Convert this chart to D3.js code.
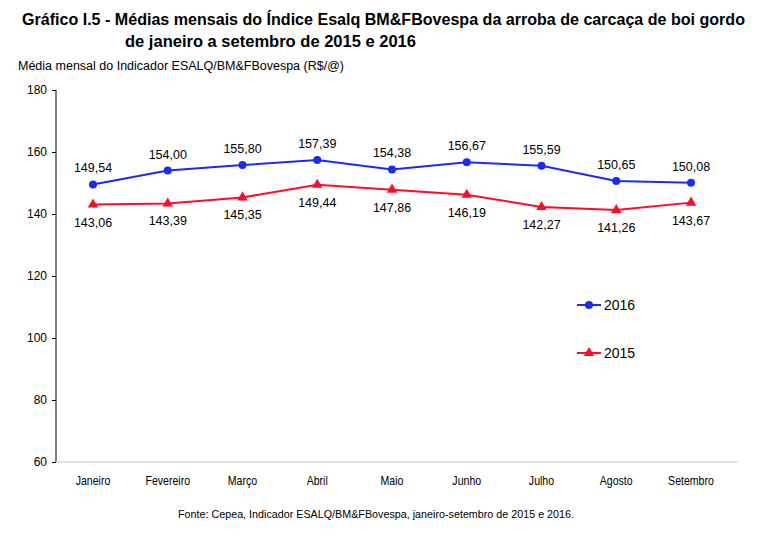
<!DOCTYPE html>
<html><head><meta charset="utf-8">
<script src="https://cdn.jsdelivr.net/npm/d3@7"></script>
<style>
body{margin:0;background:#fff;}
svg{display:block;}
</style></head>
<body>
<svg id="c" width="779" height="541"></svg>
<script>
const months = ["Janeiro","Fevereiro","Março","Abril","Maio","Junho","Julho","Agosto","Setembro"];
const values2016 = [149.54,154.00,155.80,157.39,154.38,156.67,155.59,150.65,150.08];
const values2015 = [143.06,143.39,145.35,149.44,147.86,146.19,142.27,141.26,143.67];
const yTicks = [60,80,100,120,140,160,180];
const seriesNames = ["2016","2015"];

const svg = d3.select("#c");
const sans = "'Liberation Sans',Arial,Helvetica,sans-serif";

const x = d3.scalePoint().domain(months).range([93, 691]);
const y = d3.scaleLinear().domain([60,180]).range([462, 90]);

// title (condensed via textLength)
svg.append("text").attr("x",22).attr("y",25).attr("font-family",sans).attr("font-weight","bold").attr("font-size",16)
  .attr("textLength",723).attr("lengthAdjust","spacingAndGlyphs")
  .text("Gráfico I.5 - Médias mensais do Índice Esalq BM&FBovespa da arroba de carcaça de boi gordo");
svg.append("text").attr("x",125).attr("y",47).attr("font-family",sans).attr("font-weight","bold").attr("font-size",16)
  .attr("textLength",291).attr("lengthAdjust","spacingAndGlyphs")
  .text("de janeiro a setembro de 2015 e 2016");
svg.append("text").attr("x",18).attr("y",70).attr("font-family",sans).attr("font-size",12)
  .attr("textLength",326).attr("lengthAdjust","spacingAndGlyphs")
  .text("Média mensal do Indicador ESALQ/BM&FBovespa (R$/@)");

// y axis
const ya = svg.append("g").attr("transform","translate(56,0)")
  .call(d3.axisLeft(y).tickValues(yTicks).tickSize(4).tickPadding(5).tickFormat(d3.format("d")));
ya.select(".domain").attr("stroke","#000").attr("d","M0,"+y(180)+"V"+y(60));
ya.selectAll(".tick line").attr("stroke","#000");
ya.selectAll("text").attr("font-family",sans).attr("font-size",12).attr("fill","#000");

// x axis
svg.append("line").attr("x1",56).attr("x2",738).attr("y1",y(60)).attr("y2",y(60)).attr("stroke","#c8c8c8").attr("stroke-width",1);
svg.append("g").selectAll("text").data(months).join("text")
  .attr("x",d=>x(d)).attr("y",485).attr("text-anchor","middle")
  .attr("font-family",sans).attr("font-size",12)
  .attr("transform",d=>`translate(${x(d)},0) scale(0.88,1) translate(${-x(d)},0)`)
  .text(d=>d);

const line = d3.line().x((d,i)=>x(months[i])).y(d=>y(d));
const blue = "#1a2cf2", red = "#ff0a28";
const fmt = v => d3.format(".2f")(v).replace(".",",");

// 2015
svg.append("path").datum(values2015).attr("d",line).attr("fill","none").attr("stroke",red).attr("stroke-width",2);
const tri = d3.symbol().type(d3.symbolTriangle).size(48);
svg.append("g").selectAll("path").data(values2015).join("path")
  .attr("d",tri).attr("transform",(d,i)=>`translate(${x(months[i])},${y(d)})`).attr("fill",red);
svg.append("g").selectAll("text").data(values2015).join("text")
  .attr("x",(d,i)=>x(months[i])).attr("y",d=>y(d)+22).attr("text-anchor","middle")
  .attr("font-family",sans).attr("font-size",12.5).text(fmt);

// 2016
svg.append("path").datum(values2016).attr("d",line).attr("fill","none").attr("stroke",blue).attr("stroke-width",2);
svg.append("g").selectAll("circle").data(values2016).join("circle")
  .attr("cx",(d,i)=>x(months[i])).attr("cy",d=>y(d)).attr("r",4).attr("fill",blue);
svg.append("g").selectAll("text").data(values2016).join("text")
  .attr("x",(d,i)=>x(months[i])).attr("y",d=>y(d)-12).attr("text-anchor","middle")
  .attr("font-family",sans).attr("font-size",12.5).text(fmt);

// legend
const lg = [{n:seriesNames[0],c:blue,t:"c",yy:305},{n:seriesNames[1],c:red,t:"t",yy:353}];
lg.forEach(l=>{
  svg.append("line").attr("x1",577).attr("x2",601).attr("y1",l.yy).attr("y2",l.yy).attr("stroke",l.c).attr("stroke-width",2);
  if(l.t==="c") svg.append("circle").attr("cx",589).attr("cy",l.yy).attr("r",4).attr("fill",l.c);
  else svg.append("path").attr("d",tri).attr("transform",`translate(589,${l.yy})`).attr("fill",l.c);
  svg.append("text").attr("x",604).attr("y",l.yy+5).attr("font-family",sans).attr("font-size",14).text(l.n);
});

// footer
svg.append("text").attr("x",376).attr("y",518).attr("text-anchor","middle").attr("font-family",sans).attr("font-size",11)
  .attr("textLength",396).attr("lengthAdjust","spacingAndGlyphs")
  .text("Fonte: Cepea, Indicador ESALQ/BM&FBovespa, janeiro-setembro de 2015 e 2016.");
</script>
</body></html>
